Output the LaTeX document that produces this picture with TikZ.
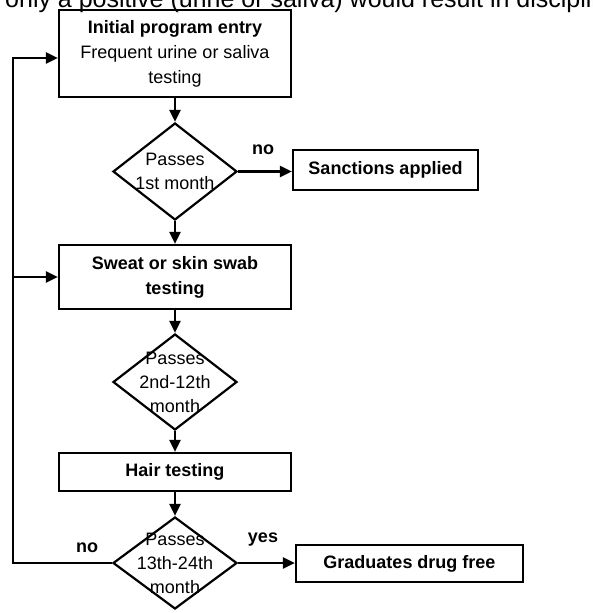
\documentclass[tikz,border=0pt]{standalone}
\usepackage{fontspec}
\setmainfont{Liberation Sans}
\usetikzlibrary{shapes.geometric, arrows.meta, positioning}

\begin{document}
\begin{tikzpicture}[x=1pt, y=-1pt,
  every node/.style={font=\fontsize{18}{25}\selectfont},
  stage/.style={draw, line width=2.2pt, rectangle, minimum width=232pt,
                align=center, inner sep=0pt},
  outcome/.style={draw, line width=2.2pt, rectangle, inner sep=0pt,
                  font=\bfseries\fontsize{18}{25}\selectfont},
  check/.style={draw, line width=2.2pt, diamond, minimum width=124pt,
                inner sep=0pt},
  checktext/.style={align=center, inner sep=0pt,
                    font=\fontsize{18}{24}\selectfont},
  tag/.style={font=\bfseries\fontsize{18}{25}\selectfont, inner sep=0pt},
  flow/.style={line width=2.2pt, -{Triangle[length=12pt,width=11pt]}}]

  \clip (0,0) rectangle (592,613);

  % cut-off text line above the chart
  \node[anchor=base west, inner sep=0pt, font=\fontsize{25}{30}\selectfont]
    (header) at (5,8) {only a positive (urine or saliva) would result in discipline};

  % main column
  \node[stage, minimum height=87pt] (entry) at (175,53.5)
    {\textbf{Initial program entry}\\Frequent urine or saliva\\testing};
  \node[check, minimum height=97pt, label={[checktext]center:Passes\\1st month}]
    (firstMonth) at (175,171.5) {};
  \node[stage, minimum height=64pt, font=\bfseries\fontsize{18}{25}\selectfont]
    (sweat) at (175,277) {Sweat or skin swab\\testing};
  \node[check, minimum height=96pt, label={[checktext]center:Passes\\2nd-12th\\month}]
    (midYear) at (175,382) {};
  \node[stage, minimum height=38pt, font=\bfseries\fontsize{18}{25}\selectfont]
    (hair) at (175,472) {Hair testing};
  \node[check, minimum height=92pt, label={[checktext]center:Passes\\13th-24th\\month}]
    (lastYear) at (175,563) {};

  % outcomes
  \node[outcome, minimum width=185pt, minimum height=40pt]
    (sanctions) at (385.5,170) {Sanctions applied};
  \node[outcome, minimum width=227pt, minimum height=37pt]
    (graduates) at (409.5,563.5) {Graduates drug free};

  \node[tag] (noFirst) at (263,150) {no};
  \node[tag] (yesLast) at (263,540) {yes};
  \node[tag] (noLast) at (87,548) {no};

  % connectors
  \draw[flow] (entry) -- (firstMonth);
  \draw[flow] (firstMonth) -- (sweat);
  \draw[flow] (sweat) -- (midYear);
  \draw[flow] (midYear) -- (hair);
  \draw[flow] (hair) -- (lastYear);
  \draw[flow] (firstMonth.east) -- (firstMonth.east -| sanctions.west);
  \draw[flow] (lastYear.east) -- (lastYear.east -| graduates.west);

  \coordinate (back) at (13,563);
  \draw[flow] (lastYear.west) -- (back) |- ([yshift=-4.5pt]entry.west);
  \draw[flow] (back |- sweat.west) -- (sweat.west);
\end{tikzpicture}
\end{document}
